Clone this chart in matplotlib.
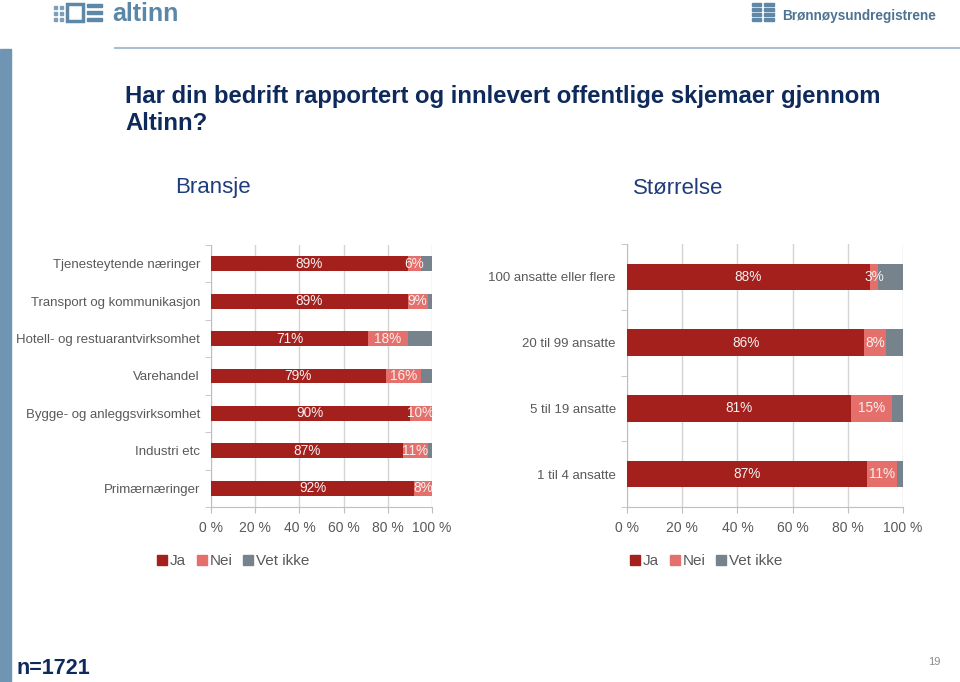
import matplotlib.pyplot as plt
from matplotlib.patches import Rectangle
from matplotlib.lines import Line2D

plt.rcParams["font.family"] = ["Liberation Sans", "DejaVu Sans"]

# data
bransje_cats = ["Tjenesteytende næringer", "Transport og kommunikasjon",
                "Hotell- og restuarantvirksomhet", "Varehandel",
                "Bygge- og anleggsvirksomhet", "Industri etc", "Primærnæringer"]
bransje_ja = [89, 89, 71, 79, 90, 87, 92]
bransje_nei = [6, 9, 18, 16, 10, 11, 8]
bransje_vet = [5, 2, 11, 5, 0, 2, 0]

storrelse_cats = ["100 ansatte eller flere", "20 til 99 ansatte",
                  "5 til 19 ansatte", "1 til 4 ansatte"]
storrelse_ja = [88, 86, 81, 87]
storrelse_nei = [3, 8, 15, 11]
storrelse_vet = [9, 6, 4, 2]

series_names = ["Ja", "Nei", "Vet ikke"]
x_ticks = [0, 20, 40, 60, 80, 100]

C_JA = "#a3201d"
C_NEI = "#e5706b"
C_VET = "#76828c"
GREY_TXT = "#595959"
NAVY = "#0e2a5c"

W, H = 960, 682
fig = plt.figure(figsize=(9.6, 6.82), dpi=100)


def fx(px):
    return px / W


def fy(py):
    return 1 - py / H


def stacked(ax, cats, ja, nei, vet):
    n = len(cats)
    ys = list(range(n))
    ax.barh(ys, ja, height=0.4, color=C_JA, zorder=3)
    ax.barh(ys, nei, left=ja, height=0.4, color=C_NEI, zorder=3)
    left3 = [a + b for a, b in zip(ja, nei)]
    ax.barh(ys, vet, left=left3, height=0.4, color=C_VET, zorder=3)
    for i in range(n):
        ax.text(ja[i] / 2, i, f"{ja[i]}%", ha="center", va="center",
                color="#f4f0f0", fontsize=9.8, zorder=4)
        ax.text(ja[i] + nei[i] / 2, i, f"{nei[i]}%", ha="center", va="center",
                color="#f4f0f0", fontsize=9.8, zorder=4)
    ax.set_xlim(0, 100)
    ax.set_ylim(n - 0.5, -0.5)
    ax.set_yticks(ys)
    ax.set_yticklabels(cats, fontsize=9.5, color=GREY_TXT)
    ax.set_yticks([i + 0.5 for i in range(-1, n)], minor=True)
    ax.tick_params(axis="y", which="major", length=0, pad=8)
    ax.tick_params(axis="y", which="minor", length=4, color="#bfbfbf", direction="out")
    ax.set_xticks(x_ticks)
    ax.set_xticklabels([f"{t} %" for t in x_ticks], fontsize=10, color=GREY_TXT)
    ax.tick_params(axis="x", length=4, color="#bfbfbf", pad=6)
    ax.grid(axis="x", color="#d4d4d4", linewidth=1, zorder=0)
    for s in ["top", "right"]:
        ax.spines[s].set_visible(False)
    for s in ["left", "bottom"]:
        ax.spines[s].set_color("#bfbfbf")


ax1 = fig.add_axes([fx(211), fy(507), fx(432 - 211), (507 - 245) / H])
stacked(ax1, bransje_cats, bransje_ja, bransje_nei, bransje_vet)

ax2 = fig.add_axes([fx(627), fy(507), fx(903 - 627), (507 - 244) / H])
stacked(ax2, storrelse_cats, storrelse_ja, storrelse_nei, storrelse_vet)

# legends
handles = [Line2D([], [], marker="s", linestyle="none", markersize=7, color=c)
           for c in (C_JA, C_NEI, C_VET)]
for x0 in (151, 624):
    fig.legend(handles, series_names, loc="center left",
               bbox_to_anchor=(fx(x0), fy(561)), ncol=3, frameon=False,
               handlelength=0.6, handletextpad=0.25, columnspacing=0.7,
               prop={"size": 11}, labelcolor=GREY_TXT, borderaxespad=0)

# title and section headers
fig.text(fx(125), fy(85), "Har din bedrift rapportert og innlevert offentlige skjemaer gjennom\nAltinn?",
         ha="left", va="top", fontsize=17.2, fontweight="bold", color=NAVY,
         linespacing=1.25)
fig.text(fx(213), fy(188), "Bransje", ha="center", va="center", fontsize=16, color="#1f3c7c")
fig.text(fx(678), fy(188), "Størrelse", ha="center", va="center", fontsize=16, color="#1f3c7c")

# slide decoration
fig.add_artist(Rectangle((0, 0), fx(11), fy(49), transform=fig.transFigure,
                         color="#6f94b4", zorder=0))
fig.add_artist(Line2D([fx(115), 1], [fy(48), fy(48)], transform=fig.transFigure,
                      color="#a9bfcf", linewidth=1.5))

# altinn logo
for cx in (54, 60):
    for cy in (6, 12, 18):
        fig.add_artist(Rectangle((fx(cx), fy(cy + 3)), fx(3), 3 / H,
                                 transform=fig.transFigure, color="#7f9fb8"))
fig.add_artist(Rectangle((fx(67), fy(21)), fx(16), 17 / H, transform=fig.transFigure,
                         fill=False, edgecolor="#5d88a8", linewidth=2.5))
for cy in (5, 12, 19):
    fig.add_artist(Rectangle((fx(87), fy(cy + 2)), fx(15), 3 / H,
                             transform=fig.transFigure, color="#5d88a8"))
fig.text(fx(112), fy(21), "altinn", ha="left", va="baseline", fontsize=18,
         fontweight="bold", color="#5a87a8")

# Brønnøysundregistrene logo
for cy in (3, 8, 13, 18):
    for cx, w in ((752, 9), (764, 10)):
        fig.add_artist(Rectangle((fx(cx), fy(cy + 3)), fx(w), 3 / H,
                                 transform=fig.transFigure, color="#5f88a8"))
fig.text(fx(782), fy(16), "Brønnøysundregistrene", ha="left", va="center",
         fontsize=9.8, fontweight="bold", color="#4f7393")

# footer
fig.text(fx(16), fy(668), "n=1721", ha="left", va="center", fontsize=15.5,
         fontweight="bold", color=NAVY,
         family=["Liberation Sans Narrow", "Liberation Sans", "DejaVu Sans"])
fig.text(fx(934), fy(662), "19", ha="center", va="center", fontsize=8, color="#8c8c8c")

fig.savefig("out.png", dpi=100)
